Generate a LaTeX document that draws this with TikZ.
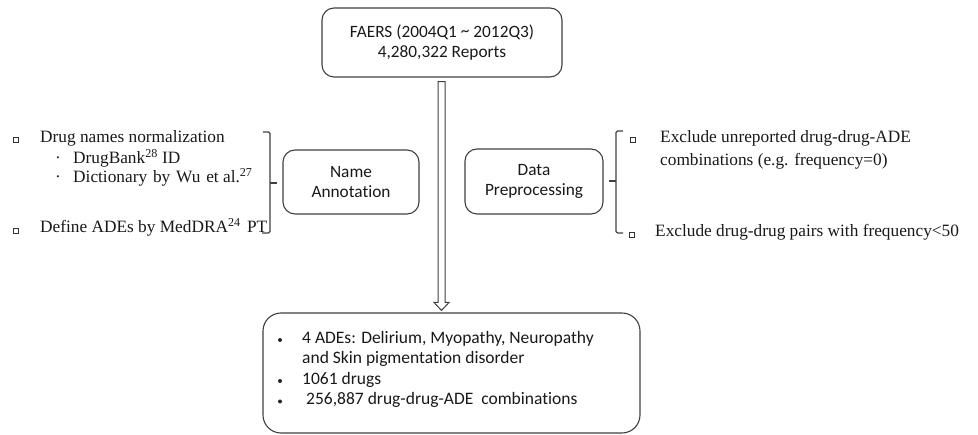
\documentclass[tikz,border=0pt]{standalone}
\usepackage{fontspec}
\setmainfont{Liberation Serif}
\newfontfamily\calfont[Ligatures=NoCommon]{Carlito}
\usetikzlibrary{calc}
\begin{document}
\begin{tikzpicture}[x=1pt,y=-1pt,
  linecol/.style={draw=black!75, line width=1.1pt},
  rbox/.style={linecol, rounded corners=12pt, inner sep=0pt, align=center, font=\calfont\fontsize{17.3}{19.5}\selectfont, text=black!90},
  serif/.style={anchor=mid west, inner sep=0pt, font=\fontsize{17.3}{20}\selectfont, text=black!90},
  cal/.style={anchor=mid west, inner sep=0pt, font=\calfont\fontsize{17.5}{20}\selectfont, text=black!90},
  dotb/.style={circle, fill=black!85, minimum size=4pt, inner sep=0pt},
  sqb/.style={draw=black!80, line width=0.9pt, minimum size=5pt, inner sep=0pt, rectangle},
  brk/.style={draw=black!75, line width=1.1pt, rounded corners=1.5pt}]
\useasboundingbox (0,0) rectangle (978,435);
% boxes
\node[rbox, minimum width=240pt, minimum height=69pt] (top) at (442,42.5) {FAERS (2004Q1 \raisebox{0.1ex}{\char`~} 2012Q3)\\4,280,322 Reports};
\node[rbox, minimum width=136pt, minimum height=64pt] (name) at (351,182) {Name\\Annotation};
\node[rbox, minimum width=138pt, minimum height=65pt] (prep) at (534,181.5) {Data\\Preprocessing};
\node[rbox, rounded corners=18pt, minimum width=377pt, minimum height=120pt] (bot) at (451.5,373) {};
% bottom box texts
\node[dotb] (b1) at (280,340) {};
\node[cal] (t1) at (302,341) {4 ADEs: Delirium, Myopathy, Neuropathy};
\node[cal] (t1b) at (302,361.5) {and Skin pigmentation disorder};
\node[dotb] (b2) at (280,381) {};
\node[cal] (t2) at (302,382) {1061 drugs};
\node[dotb] (b3) at (280,401.5) {};
\node[cal] (t3) at (306,402.5) {256,887 drug-drug-ADE\ \ combinations};
% hollow block arrow
\coordinate (as) at ($(top.south)+(-0.5,4)$);
\coordinate (ae) at ($(bot.north)+(-10,-2)$);
\coordinate (tip) at (as |- ae);
\draw[linecol, line width=1pt, line join=miter]
  ($(as)+(-3.5,0)$) -- ($(tip)+(-3.5,-8)$) -- ($(tip)+(-7.5,-8)$) -- (tip)
  -- ($(tip)+(7.5,-8)$) -- ($(tip)+(3.5,-8)$) -- ($(as)+(3.5,0)$) -- cycle;
% left texts
\node[sqb] (q1) at (16,140) {};
\node[serif] (l1) at (40,140) {Drug names normalization};
\node[serif] (d1) at (55,161) {·};
\node[serif] (l2) at (73,161) {DrugBank\textsuperscript{28} ID};
\node[serif] (d2) at (55,180) {·};
\node[serif] (l3) at (73,180) {Dictionary\hspace{1.5pt} by\hspace{1.5pt} Wu\hspace{1.5pt} et al.\textsuperscript{27}};
\node[sqb] (q2) at (16,231) {};
\node[serif] (l4) at (40,230) {Define ADEs by MedDRA\textsuperscript{24}\hspace{2pt} PT};
% left bracket
\draw[brk] (263,132) -- (270,132) -- (270,233) -- (262,233);
\draw[brk] (270,183) -- (277,183);
% right bracket
\draw[brk] (623,131) -- (616,131) -- (616,233) -- (623,233);
\draw[brk] (616,181) -- (609,181);
% right texts
\node[sqb] (q3) at (633,140) {};
\node[serif] (r1) at (660,140) {Exclude unreported drug-drug-ADE};
\node[serif] (r2) at (660,163) {combinations (e.g. frequency=0)};
\node[sqb] (q4) at (632,235) {};
\node[serif] (r3) at (655,234) {Exclude drug-drug pairs with frequency<50};
\end{tikzpicture}
\end{document}
